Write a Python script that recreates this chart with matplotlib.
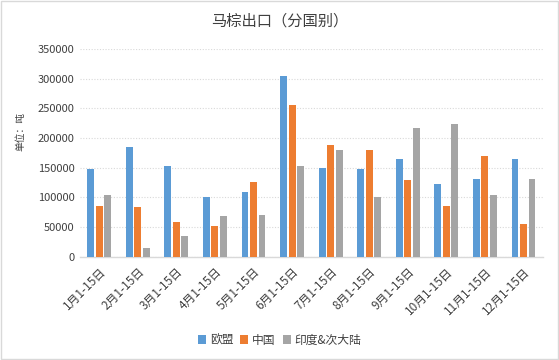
import numpy as np
import matplotlib
matplotlib.use("Agg")
import matplotlib.pyplot as plt
from matplotlib.patches import Rectangle

plt.rcParams["font.family"] = ["Noto Sans CJK SC", "DejaVu Sans"]

# --- Data ---
periods = ["1月1-15日", "2月1-15日", "3月1-15日", "4月1-15日", "5月1-15日", "6月1-15日",
           "7月1-15日", "8月1-15日", "9月1-15日", "10月1-15日", "11月1-15日", "12月1-15日"]
eu = [147000, 184000, 153000, 101000, 109000, 304000,
      150000, 147000, 165000, 123000, 131000, 165000]
china = [86000, 84000, 59000, 52000, 125000, 256000,
         189000, 180000, 130000, 86000, 169000, 55000]
india = [104000, 15000, 35000, 69000, 70000, 153000,
         179000, 101000, 216000, 224000, 104000, 131000]
series_names = ["欧盟", "中国", "印度&次大陆"]
yticks = [0, 50000, 100000, 150000, 200000, 250000, 300000, 350000]

# --- Style ---
COLORS = ["#5B9BD5", "#ED7D31", "#A5A5A5"]
GRID = "#D9D9D9"
TEXT = "#404040"

fig = plt.figure(figsize=(5.59, 3.60), dpi=100)
ax = fig.add_axes([0.143, 0.287, 0.828, 0.577])

x = np.arange(len(periods))
width = 0.18
step = 0.22
for i, (vals, name) in enumerate(zip((eu, china, india), series_names)):
    ax.bar(x + (i - 1) * step, vals, width=width, color=COLORS[i], label=name, zorder=3)

ax.set_xlim(-0.5, len(periods) - 0.5)
ax.set_ylim(0, 350000)
ax.set_yticks(yticks)
ax.set_yticklabels([str(v) for v in yticks], fontsize=8, color=TEXT)
ax.yaxis.grid(True, linestyle=(0, (1, 1.5)), color=GRID, linewidth=0.8, zorder=0)

ax.set_xticks(x)
ax.set_xticklabels(periods, rotation=45, ha="right", rotation_mode="anchor",
                   fontsize=8.5, color=TEXT)
ax.tick_params(axis="both", length=0, pad=4)
ax.tick_params(axis="x", pad=6)

for side in ("top", "right", "left"):
    ax.spines[side].set_visible(False)
ax.spines["bottom"].set_color(GRID)
ax.spines["bottom"].set_linewidth(1.0)

fig.text(0.5, 0.942, "马棕出口（分国别）", ha="center", va="center", fontsize=11, color=TEXT)
fig.text(0.037, 0.636, "单位：吨", ha="center", va="center", rotation=90, fontsize=7, color=TEXT)

fig.legend(loc="center", bbox_to_anchor=(0.5, 0.055), ncol=3, frameon=False,
           fontsize=8.5, handlelength=0.7, handleheight=0.7, handletextpad=0.3,
           columnspacing=0.6, labelcolor=TEXT)

# light border around the figure, like the Excel chart area
fig.patches.append(Rectangle((0.002, 0.003), 0.996, 0.994, transform=fig.transFigure,
                             fill=False, edgecolor=GRID, linewidth=1.0))

fig.savefig("out.png", dpi=100)
